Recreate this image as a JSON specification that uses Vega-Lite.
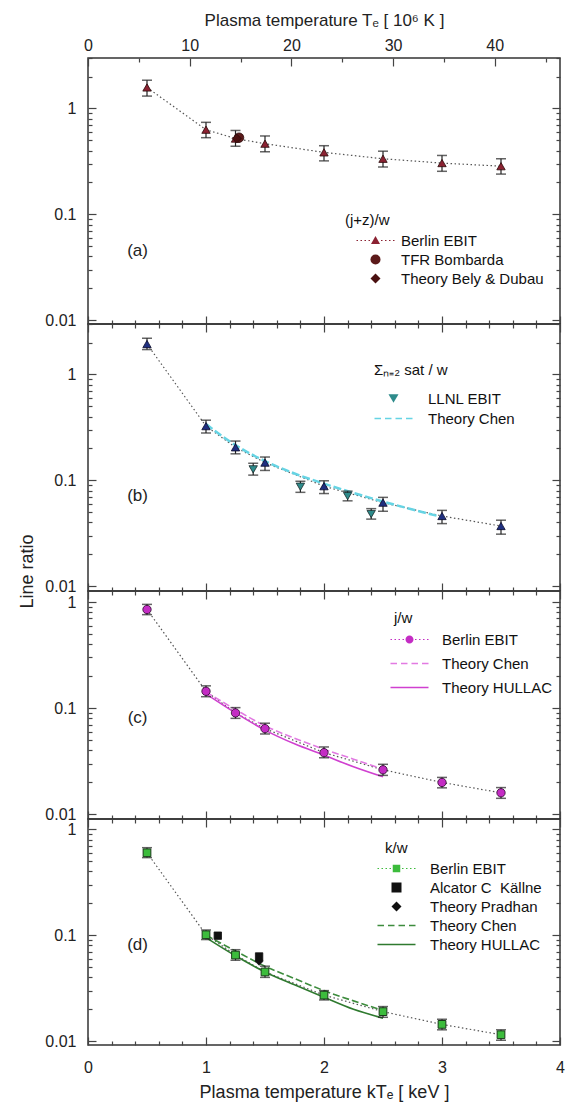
{
  "$schema": "https://vega.github.io/schema/vega-lite/v6.json",
  "padding": {"left": 18, "top": 10, "right": 5, "bottom": 2},
  "spacing": 0,
  "bounds": "flush",
  "config": {
    "font": "Liberation Sans",
    "view": {"stroke": "#333", "strokeWidth": 1.5},
    "axis": {"domain": false, "grid": false, "labelFont": "Liberation Sans", "labelFontSize": 16, "labelColor": "#222", "titleFont": "Liberation Sans", "titleFontSize": 18, "titleFontWeight": "normal", "titleColor": "#222", "tickColor": "#444", "tickWidth": 1.2, "labelOverlap": false, "labelBound": false, "labelFlush": false},
    "legend": {"labelFont": "Liberation Sans", "titleFont": "Liberation Sans", "labelFontSize": 15, "titleFontSize": 15, "titleFontWeight": "normal", "labelColor": "#111", "titleColor": "#111", "symbolStrokeWidth": 0, "symbolSize": 100, "symbolOpacity": 1, "labelLimit": 300, "padding": 0, "orient": "none"}
  },
  "datasets": {
    "a": [
      {"series": "Berlin EBIT", "kT": 0.5, "ratio": 1.58, "lo": 1.31, "hi": 1.85},
      {"series": "Berlin EBIT", "kT": 1.0, "ratio": 0.63, "lo": 0.53, "hi": 0.74},
      {"series": "Berlin EBIT", "kT": 1.25, "ratio": 0.52, "lo": 0.44, "hi": 0.62},
      {"series": "Berlin EBIT", "kT": 1.5, "ratio": 0.465, "lo": 0.39, "hi": 0.55},
      {"series": "Berlin EBIT", "kT": 2.0, "ratio": 0.385, "lo": 0.32, "hi": 0.445},
      {"series": "Berlin EBIT", "kT": 2.5, "ratio": 0.335, "lo": 0.28, "hi": 0.395},
      {"series": "Berlin EBIT", "kT": 3.0, "ratio": 0.305, "lo": 0.255, "hi": 0.36},
      {"series": "Berlin EBIT", "kT": 3.5, "ratio": 0.285, "lo": 0.24, "hi": 0.335},
      {"series": "TFR Bombarda", "kT": 1.28, "ratio": 0.53},
      {"series": "Theory Bely & Dubau", "kT": 1.26, "ratio": 0.52}
    ],
    "b": [
      {"series": "Berlin EBIT", "kT": 0.5, "ratio": 1.94, "lo": 1.72, "hi": 2.2},
      {"series": "Berlin EBIT", "kT": 1.0, "ratio": 0.325, "lo": 0.28, "hi": 0.37},
      {"series": "Berlin EBIT", "kT": 1.25, "ratio": 0.205, "lo": 0.178, "hi": 0.235},
      {"series": "Berlin EBIT", "kT": 1.5, "ratio": 0.147, "lo": 0.124, "hi": 0.166},
      {"series": "Berlin EBIT", "kT": 2.0, "ratio": 0.088, "lo": 0.075, "hi": 0.099},
      {"series": "Berlin EBIT", "kT": 2.5, "ratio": 0.0615, "lo": 0.051, "hi": 0.069},
      {"series": "Berlin EBIT", "kT": 3.0, "ratio": 0.046, "lo": 0.039, "hi": 0.052},
      {"series": "Berlin EBIT", "kT": 3.5, "ratio": 0.037, "lo": 0.031, "hi": 0.042},
      {"series": "LLNL EBIT", "kT": 1.4, "ratio": 0.127, "lo": 0.112, "hi": 0.145},
      {"series": "LLNL EBIT", "kT": 1.8, "ratio": 0.087, "lo": 0.077, "hi": 0.098},
      {"series": "LLNL EBIT", "kT": 2.2, "ratio": 0.071, "lo": 0.064, "hi": 0.079},
      {"series": "LLNL EBIT", "kT": 2.4, "ratio": 0.048, "lo": 0.043, "hi": 0.054},
      {"series": "Theory Chen", "kT": 1.0, "ratio": 0.34},
      {"series": "Theory Chen", "kT": 1.25, "ratio": 0.215},
      {"series": "Theory Chen", "kT": 1.5, "ratio": 0.152},
      {"series": "Theory Chen", "kT": 1.75, "ratio": 0.116},
      {"series": "Theory Chen", "kT": 2.0, "ratio": 0.093},
      {"series": "Theory Chen", "kT": 2.25, "ratio": 0.076},
      {"series": "Theory Chen", "kT": 2.5, "ratio": 0.063},
      {"series": "Theory Chen", "kT": 2.75, "ratio": 0.053},
      {"series": "Theory Chen", "kT": 3.0, "ratio": 0.045}
    ],
    "c": [
      {"series": "Berlin EBIT", "kT": 0.5, "ratio": 0.85, "lo": 0.76, "hi": 0.95},
      {"series": "Berlin EBIT", "kT": 1.0, "ratio": 0.144, "lo": 0.128, "hi": 0.162},
      {"series": "Berlin EBIT", "kT": 1.25, "ratio": 0.09, "lo": 0.08, "hi": 0.101},
      {"series": "Berlin EBIT", "kT": 1.5, "ratio": 0.064, "lo": 0.057, "hi": 0.072},
      {"series": "Berlin EBIT", "kT": 2.0, "ratio": 0.038, "lo": 0.034, "hi": 0.043},
      {"series": "Berlin EBIT", "kT": 2.5, "ratio": 0.0262, "lo": 0.0232, "hi": 0.0295},
      {"series": "Berlin EBIT", "kT": 3.0, "ratio": 0.0199, "lo": 0.0177, "hi": 0.0222},
      {"series": "Berlin EBIT", "kT": 3.5, "ratio": 0.0159, "lo": 0.0141, "hi": 0.0178},
      {"series": "Theory Chen", "kT": 1.0, "ratio": 0.142},
      {"series": "Theory Chen", "kT": 1.25, "ratio": 0.097},
      {"series": "Theory Chen", "kT": 1.5, "ratio": 0.068},
      {"series": "Theory Chen", "kT": 1.75, "ratio": 0.052},
      {"series": "Theory Chen", "kT": 2.0, "ratio": 0.041},
      {"series": "Theory Chen", "kT": 2.25, "ratio": 0.033},
      {"series": "Theory Chen", "kT": 2.5, "ratio": 0.0265},
      {"series": "Theory HULLAC", "kT": 1.0, "ratio": 0.136},
      {"series": "Theory HULLAC", "kT": 1.25, "ratio": 0.09},
      {"series": "Theory HULLAC", "kT": 1.5, "ratio": 0.062},
      {"series": "Theory HULLAC", "kT": 1.75, "ratio": 0.046},
      {"series": "Theory HULLAC", "kT": 2.0, "ratio": 0.036},
      {"series": "Theory HULLAC", "kT": 2.25, "ratio": 0.028},
      {"series": "Theory HULLAC", "kT": 2.5, "ratio": 0.0225}
    ],
    "d": [
      {"series": "Berlin EBIT", "kT": 0.5, "ratio": 0.6, "lo": 0.54, "hi": 0.67},
      {"series": "Berlin EBIT", "kT": 1.0, "ratio": 0.101, "lo": 0.091, "hi": 0.112},
      {"series": "Berlin EBIT", "kT": 1.25, "ratio": 0.065, "lo": 0.058, "hi": 0.073},
      {"series": "Berlin EBIT", "kT": 1.5, "ratio": 0.045, "lo": 0.04, "hi": 0.051},
      {"series": "Berlin EBIT", "kT": 2.0, "ratio": 0.0272, "lo": 0.0245, "hi": 0.03},
      {"series": "Berlin EBIT", "kT": 2.5, "ratio": 0.019, "lo": 0.0168, "hi": 0.0212},
      {"series": "Berlin EBIT", "kT": 3.0, "ratio": 0.0144, "lo": 0.0128, "hi": 0.0161},
      {"series": "Berlin EBIT", "kT": 3.5, "ratio": 0.0115, "lo": 0.0102, "hi": 0.0128},
      {"series": "Alcator C\u00a0 Källne", "kT": 1.1, "ratio": 0.099},
      {"series": "Alcator C\u00a0 Källne", "kT": 1.45, "ratio": 0.063},
      {"series": "Theory Pradhan", "kT": 1.45, "ratio": 0.057},
      {"series": "Theory Chen", "kT": 1.0, "ratio": 0.1},
      {"series": "Theory Chen", "kT": 1.25, "ratio": 0.071},
      {"series": "Theory Chen", "kT": 1.5, "ratio": 0.051},
      {"series": "Theory Chen", "kT": 1.75, "ratio": 0.039},
      {"series": "Theory Chen", "kT": 2.0, "ratio": 0.03},
      {"series": "Theory Chen", "kT": 2.25, "ratio": 0.024},
      {"series": "Theory Chen", "kT": 2.5, "ratio": 0.0195},
      {"series": "Theory HULLAC", "kT": 1.0, "ratio": 0.095},
      {"series": "Theory HULLAC", "kT": 1.25, "ratio": 0.064},
      {"series": "Theory HULLAC", "kT": 1.5, "ratio": 0.045},
      {"series": "Theory HULLAC", "kT": 1.75, "ratio": 0.034},
      {"series": "Theory HULLAC", "kT": 2.0, "ratio": 0.026},
      {"series": "Theory HULLAC", "kT": 2.25, "ratio": 0.02},
      {"series": "Theory HULLAC", "kT": 2.5, "ratio": 0.0165}
    ]
  },
  "resolve": {"scale": {"x": "independent", "y": "independent", "fill": "independent", "shape": "independent"}, "legend": {"fill": "independent", "shape": "independent"}},
  "vconcat": [
    {
      "name": "pa", "width": 472, "height": 266,
      "data": {"name": "a"},
      "resolve": {"axis": {"x": "independent", "y": "independent"}},
      "layer": [
        {"transform": [{"filter": "datum.series === 'Berlin EBIT'"}],
         "mark": {"type": "line", "strokeDash": [1.5, 2.5], "color": "#555", "strokeWidth": 1.2},
         "encoding": {
           "x": {"field": "kT", "type": "quantitative", "scale": {"domain": [0, 4], "nice": false, "zero": false},
                 "axis": {"orient": "bottom", "title": null, "labels": false, "values": [0,0.2,0.4,0.6,0.8,1,1.2,1.4,1.6,1.8,2,2.2,2.4,2.6,2.8,3,3.2,3.4,3.6,3.8,4],
                          "tickSize": {"condition": {"test": "abs(datum.value - round(datum.value)) < 0.001", "value": -8}, "value": -4}}},
           "y": {"field": "ratio", "type": "quantitative", "scale": {"type": "log", "domain": [0.0092, 3], "nice": false},
                 "axis": {"orient": "left", "title": null, "values": [0.01,0.02,0.03,0.04,0.05,0.06,0.07,0.08,0.09,0.1,0.2,0.3,0.4,0.5,0.6,0.7,0.8,0.9,1,2,3],
                          "labelExpr": "abs(log(datum.value)/LN10 - round(log(datum.value)/LN10)) < 0.001 ? format(datum.value, '~g') : ''",
                          "labelPadding": 20,
                          "tickSize": {"condition": {"test": "abs(log(datum.value)/LN10 - round(log(datum.value)/LN10)) < 0.001", "value": -8}, "value": -4}}}
         }},
        {"transform": [{"filter": "isValid(datum.lo)"}],
         "mark": {"type": "rule", "color": "#222", "strokeWidth": 1.2},
         "encoding": {
           "x": {"field": "kT", "type": "quantitative",
                 "axis": {"orient": "top", "title": "Plasma temperature Tₑ [ 10⁶ K ]", "titleFontSize": 17, "titlePadding": 4,
                          "values": [0, 0.43087, 0.86174, 1.29261, 1.72347, 2.15434, 2.58521, 3.01608, 3.44695, 3.87781],
                          "labelExpr": "round(datum.value*11.6045) % 10 == 0 ? format(round(datum.value*11.6045), 'd') : ''",
                          "labelPadding": 13,
                          "tickSize": {"condition": {"test": "round(datum.value*11.6045) % 10 == 0", "value": -8}, "value": -4}}},
           "y": {"field": "lo", "type": "quantitative",
                 "axis": {"orient": "right", "title": null, "labels": false, "values": [0.01,0.02,0.03,0.04,0.05,0.06,0.07,0.08,0.09,0.1,0.2,0.3,0.4,0.5,0.6,0.7,0.8,0.9,1,2,3],
                          "tickSize": {"condition": {"test": "abs(log(datum.value)/LN10 - round(log(datum.value)/LN10)) < 0.001", "value": -8}, "value": -4}}},
           "y2": {"field": "hi"}
         }},
        {"transform": [{"filter": "isValid(datum.lo)"}],
         "mark": {"type": "tick", "orient": "horizontal", "size": 10, "thickness": 1.5, "color": "#222"},
         "encoding": {"x": {"field": "kT", "type": "quantitative", "axis": null}, "y": {"field": "lo", "type": "quantitative", "axis": null}}},
        {"transform": [{"filter": "isValid(datum.hi)"}],
         "mark": {"type": "tick", "orient": "horizontal", "size": 10, "thickness": 1.5, "color": "#222"},
         "encoding": {"x": {"field": "kT", "type": "quantitative", "axis": null}, "y": {"field": "hi", "type": "quantitative", "axis": null}}},
        {"transform": [{"filter": "datum.series === 'Berlin EBIT'"}],
         "mark": {"type": "point", "shape": "triangle-up", "filled": true, "size": 70, "fill": "#8b2232", "stroke": "#2a0a0a", "strokeWidth": 0.8, "opacity": 1},
         "encoding": {"x": {"field": "kT", "type": "quantitative", "axis": null}, "y": {"field": "ratio", "type": "quantitative", "axis": null}}},
        {"transform": [{"filter": "datum.series === 'TFR Bombarda'"}],
         "mark": {"type": "point", "shape": "circle", "filled": true, "size": 90, "fill": "#5c1a1a", "stroke": "#2a0a0a", "strokeWidth": 0.8, "opacity": 1},
         "encoding": {"x": {"field": "kT", "type": "quantitative", "axis": null}, "y": {"field": "ratio", "type": "quantitative", "axis": null}}},
        {"transform": [{"filter": "datum.series === 'Theory Bely & Dubau'"}],
         "mark": {"type": "point", "shape": "diamond", "filled": true, "size": 80, "fill": "#4a1010", "stroke": "#2a0a0a", "strokeWidth": 0.8, "opacity": 1},
         "encoding": {"x": {"field": "kT", "type": "quantitative", "axis": null}, "y": {"field": "ratio", "type": "quantitative", "axis": null}}},
        {"data": {"values": [{"label": "(a)"}]},
         "mark": {"type": "text", "fontSize": 17, "font": "Liberation Sans", "color": "#222"},
         "encoding": {"x": {"datum": 0.42, "type": "quantitative", "axis": null}, "y": {"datum": 0.045, "type": "quantitative", "axis": null}, "text": {"field": "label"}}},
        {"data": {"values": []},
         "mark": {"type": "point", "filled": true},
         "encoding": {
           "fill": {"field": "series", "type": "nominal", "scale": {"domain": ["Berlin EBIT", "TFR Bombarda", "Theory Bely & Dubau"], "range": ["#8b2232", "#5c1a1a", "#4a1010"]},
                    "legend": {"title": "(j+z)/w", "legendX": 257, "legendY": 155, "symbolOffset": 23, "labelOffset": 18, "rowPadding": 3, "titlePadding": 5}},
           "shape": {"field": "series", "type": "nominal", "scale": {"domain": ["Berlin EBIT", "TFR Bombarda", "Theory Bely & Dubau"], "range": ["M-3.8,-0.12h0.3v0.24h-0.3Z M-3.0,-0.12h0.3v0.24h-0.3Z M-2.2,-0.12h0.3v0.24h-0.3Z M-1.4,-0.12h0.3v0.24h-0.3Z M1.1,-0.12h0.3v0.24h-0.3Z M1.9,-0.12h0.3v0.24h-0.3Z M2.7,-0.12h0.3v0.24h-0.3Z M3.5,-0.12h0.3v0.24h-0.3Z M0,-0.9L0.9,0.7L-0.9,0.7Z", "circle", "diamond"]},
                    "legend": {"title": "(j+z)/w", "legendX": 257, "legendY": 155, "symbolOffset": 23, "labelOffset": 18, "rowPadding": 3, "titlePadding": 5}}
         }}
      ]
    },
    {
      "name": "pb", "width": 472, "height": 267,
      "data": {"name": "b"},
      "resolve": {"axis": {"x": "independent", "y": "independent"}},
      "layer": [
        {"transform": [{"filter": "datum.series === 'Berlin EBIT'"}],
         "mark": {"type": "line", "strokeDash": [1.5, 2.5], "color": "#555", "strokeWidth": 1.2},
         "encoding": {
           "x": {"field": "kT", "type": "quantitative", "scale": {"domain": [0, 4], "nice": false, "zero": false},
                 "axis": {"orient": "bottom", "title": null, "labels": false, "values": [0,0.2,0.4,0.6,0.8,1,1.2,1.4,1.6,1.8,2,2.2,2.4,2.6,2.8,3,3.2,3.4,3.6,3.8,4],
                          "tickSize": {"condition": {"test": "abs(datum.value - round(datum.value)) < 0.001", "value": -8}, "value": -4}}},
           "y": {"field": "ratio", "type": "quantitative", "scale": {"type": "log", "domain": [0.009, 3], "nice": false},
                 "axis": {"orient": "left", "title": "Line ratio", "titleY": 247, "titlePadding": 8, "values": [0.01,0.02,0.03,0.04,0.05,0.06,0.07,0.08,0.09,0.1,0.2,0.3,0.4,0.5,0.6,0.7,0.8,0.9,1,2,3],
                          "labelExpr": "abs(log(datum.value)/LN10 - round(log(datum.value)/LN10)) < 0.001 ? format(datum.value, '~g') : ''",
                          "labelPadding": 20,
                          "tickSize": {"condition": {"test": "abs(log(datum.value)/LN10 - round(log(datum.value)/LN10)) < 0.001", "value": -8}, "value": -4}}}
         }},
        {"transform": [{"filter": "datum.series === 'Theory Chen'"}],
         "mark": {"type": "line", "strokeDash": [8, 3], "color": "#66d4e4", "strokeWidth": 2.5, "interpolate": "monotone"},
         "encoding": {
           "x": {"field": "kT", "type": "quantitative",
                 "axis": {"orient": "top", "title": null, "labels": false, "values": [0,0.2,0.4,0.6,0.8,1,1.2,1.4,1.6,1.8,2,2.2,2.4,2.6,2.8,3,3.2,3.4,3.6,3.8,4],
                          "tickSize": {"condition": {"test": "abs(datum.value - round(datum.value)) < 0.001", "value": -8}, "value": -4}}},
           "y": {"field": "ratio", "type": "quantitative",
                 "axis": {"orient": "right", "title": null, "labels": false, "values": [0.01,0.02,0.03,0.04,0.05,0.06,0.07,0.08,0.09,0.1,0.2,0.3,0.4,0.5,0.6,0.7,0.8,0.9,1,2,3],
                          "tickSize": {"condition": {"test": "abs(log(datum.value)/LN10 - round(log(datum.value)/LN10)) < 0.001", "value": -8}, "value": -4}}}
         }},
        {"transform": [{"filter": "isValid(datum.lo)"}],
         "mark": {"type": "rule", "color": "#222", "strokeWidth": 1.2},
         "encoding": {"x": {"field": "kT", "type": "quantitative", "axis": null}, "y": {"field": "lo", "type": "quantitative", "axis": null}, "y2": {"field": "hi"}}},
        {"transform": [{"filter": "isValid(datum.lo)"}],
         "mark": {"type": "tick", "orient": "horizontal", "size": 10, "thickness": 1.5, "color": "#222"},
         "encoding": {"x": {"field": "kT", "type": "quantitative", "axis": null}, "y": {"field": "lo", "type": "quantitative", "axis": null}}},
        {"transform": [{"filter": "isValid(datum.hi)"}],
         "mark": {"type": "tick", "orient": "horizontal", "size": 10, "thickness": 1.5, "color": "#222"},
         "encoding": {"x": {"field": "kT", "type": "quantitative", "axis": null}, "y": {"field": "hi", "type": "quantitative", "axis": null}}},
        {"transform": [{"filter": "datum.series === 'LLNL EBIT'"}],
         "mark": {"type": "point", "shape": "triangle-down", "filled": true, "size": 70, "fill": "#2e8b8b", "stroke": "#1a2a2a", "strokeWidth": 0.8, "opacity": 1},
         "encoding": {"x": {"field": "kT", "type": "quantitative", "axis": null}, "y": {"field": "ratio", "type": "quantitative", "axis": null}}},
        {"transform": [{"filter": "datum.series === 'Berlin EBIT'"}],
         "mark": {"type": "point", "shape": "triangle-up", "filled": true, "size": 70, "fill": "#1f2f80", "stroke": "#0a0a2a", "strokeWidth": 0.8, "opacity": 1},
         "encoding": {"x": {"field": "kT", "type": "quantitative", "axis": null}, "y": {"field": "ratio", "type": "quantitative", "axis": null}}},
        {"data": {"values": [{"label": "(b)"}]},
         "mark": {"type": "text", "fontSize": 17, "font": "Liberation Sans", "color": "#222"},
         "encoding": {"x": {"datum": 0.42, "type": "quantitative", "axis": null}, "y": {"datum": 0.071, "type": "quantitative", "axis": null}, "text": {"field": "label"}}},
        {"data": {"values": []},
         "mark": {"type": "point", "filled": true},
         "encoding": {
           "fill": {"field": "series", "type": "nominal", "scale": {"domain": ["LLNL EBIT", "Theory Chen"], "range": ["#2e8b8b", "#66d4e4"]},
                    "legend": {"title": "Σₙ₌₂ sat / w", "legendX": 286, "legendY": 39, "symbolOffset": 12, "labelOffset": 27, "rowPadding": 4, "titlePadding": 13}},
           "shape": {"field": "series", "type": "nominal", "scale": {"domain": ["LLNL EBIT", "Theory Chen"], "range": ["triangle-down", "M-3.8,-0.15H-2.5V0.15H-3.8Z M-1.7,-0.15H-0.4V0.15H-1.7Z M0.4,-0.15H1.7V0.15H0.4Z M2.5,-0.15H3.8V0.15H2.5Z"]},
                    "legend": {"title": "Σₙ₌₂ sat / w", "legendX": 286, "legendY": 39, "symbolOffset": 12, "labelOffset": 27, "rowPadding": 4, "titlePadding": 13}}
         }}
      ]
    },
    {
      "name": "pc", "width": 472, "height": 228,
      "data": {"name": "c"},
      "resolve": {"axis": {"x": "independent", "y": "independent"}},
      "layer": [
        {"transform": [{"filter": "datum.series === 'Berlin EBIT'"}],
         "mark": {"type": "line", "strokeDash": [1.5, 2.5], "color": "#555", "strokeWidth": 1.2},
         "encoding": {
           "x": {"field": "kT", "type": "quantitative", "scale": {"domain": [0, 4], "nice": false, "zero": false},
                 "axis": {"orient": "bottom", "title": null, "labels": false, "values": [0,0.2,0.4,0.6,0.8,1,1.2,1.4,1.6,1.8,2,2.2,2.4,2.6,2.8,3,3.2,3.4,3.6,3.8,4],
                          "tickSize": {"condition": {"test": "abs(datum.value - round(datum.value)) < 0.001", "value": -8}, "value": -4}}},
           "y": {"field": "ratio", "type": "quantitative", "scale": {"type": "log", "domain": [0.009, 1.27], "nice": false},
                 "axis": {"orient": "left", "title": null, "values": [0.01,0.02,0.03,0.04,0.05,0.06,0.07,0.08,0.09,0.1,0.2,0.3,0.4,0.5,0.6,0.7,0.8,0.9,1],
                          "labelExpr": "abs(log(datum.value)/LN10 - round(log(datum.value)/LN10)) < 0.001 ? format(datum.value, '~g') : ''",
                          "labelPadding": 20,
                          "tickSize": {"condition": {"test": "abs(log(datum.value)/LN10 - round(log(datum.value)/LN10)) < 0.001", "value": -8}, "value": -4}}}
         }},
        {"transform": [{"filter": "datum.series === 'Theory Chen'"}],
         "mark": {"type": "line", "strokeDash": [7, 3], "color": "#e27ae2", "strokeWidth": 1.6, "interpolate": "monotone"},
         "encoding": {
           "x": {"field": "kT", "type": "quantitative",
                 "axis": {"orient": "top", "title": null, "labels": false, "values": [0,0.2,0.4,0.6,0.8,1,1.2,1.4,1.6,1.8,2,2.2,2.4,2.6,2.8,3,3.2,3.4,3.6,3.8,4],
                          "tickSize": {"condition": {"test": "abs(datum.value - round(datum.value)) < 0.001", "value": -8}, "value": -4}}},
           "y": {"field": "ratio", "type": "quantitative",
                 "axis": {"orient": "right", "title": null, "labels": false, "values": [0.01,0.02,0.03,0.04,0.05,0.06,0.07,0.08,0.09,0.1,0.2,0.3,0.4,0.5,0.6,0.7,0.8,0.9,1],
                          "tickSize": {"condition": {"test": "abs(log(datum.value)/LN10 - round(log(datum.value)/LN10)) < 0.001", "value": -8}, "value": -4}}}
         }},
        {"transform": [{"filter": "datum.series === 'Theory HULLAC'"}],
         "mark": {"type": "line", "color": "#d040d0", "strokeWidth": 1.6, "interpolate": "monotone"},
         "encoding": {"x": {"field": "kT", "type": "quantitative", "axis": null}, "y": {"field": "ratio", "type": "quantitative", "axis": null}}},
        {"transform": [{"filter": "isValid(datum.lo)"}],
         "mark": {"type": "rule", "color": "#222", "strokeWidth": 1.2},
         "encoding": {"x": {"field": "kT", "type": "quantitative", "axis": null}, "y": {"field": "lo", "type": "quantitative", "axis": null}, "y2": {"field": "hi"}}},
        {"transform": [{"filter": "isValid(datum.lo)"}],
         "mark": {"type": "tick", "orient": "horizontal", "size": 10, "thickness": 1.5, "color": "#222"},
         "encoding": {"x": {"field": "kT", "type": "quantitative", "axis": null}, "y": {"field": "lo", "type": "quantitative", "axis": null}}},
        {"transform": [{"filter": "isValid(datum.hi)"}],
         "mark": {"type": "tick", "orient": "horizontal", "size": 10, "thickness": 1.5, "color": "#222"},
         "encoding": {"x": {"field": "kT", "type": "quantitative", "axis": null}, "y": {"field": "hi", "type": "quantitative", "axis": null}}},
        {"transform": [{"filter": "datum.series === 'Berlin EBIT'"}],
         "mark": {"type": "point", "shape": "circle", "filled": true, "size": 70, "fill": "#c42cc4", "stroke": "#2a0a2a", "strokeWidth": 0.8, "opacity": 1},
         "encoding": {"x": {"field": "kT", "type": "quantitative", "axis": null}, "y": {"field": "ratio", "type": "quantitative", "axis": null}}},
        {"data": {"values": [{"label": "(c)"}]},
         "mark": {"type": "text", "fontSize": 17, "font": "Liberation Sans", "color": "#222"},
         "encoding": {"x": {"datum": 0.42, "type": "quantitative", "axis": null}, "y": {"datum": 0.08, "type": "quantitative", "axis": null}, "text": {"field": "label"}}},
        {"data": {"values": []},
         "mark": {"type": "point", "filled": true},
         "encoding": {
           "fill": {"field": "series", "type": "nominal", "scale": {"domain": ["Berlin EBIT", "Theory Chen", "Theory HULLAC"], "range": ["#c42cc4", "#e27ae2", "#d040d0"]},
                    "legend": {"title": "j/w", "legendX": 306, "legendY": 20, "symbolOffset": 8, "labelOffset": 25, "rowPadding": 8, "titlePadding": 6}},
           "shape": {"field": "series", "type": "nominal", "scale": {"domain": ["Berlin EBIT", "Theory Chen", "Theory HULLAC"], "range": ["M-3.8,-0.12h0.3v0.24h-0.3Z M-3.0,-0.12h0.3v0.24h-0.3Z M-2.2,-0.12h0.3v0.24h-0.3Z M-1.4,-0.12h0.3v0.24h-0.3Z M1.1,-0.12h0.3v0.24h-0.3Z M1.9,-0.12h0.3v0.24h-0.3Z M2.7,-0.12h0.3v0.24h-0.3Z M3.5,-0.12h0.3v0.24h-0.3Z M-0.8,0A0.8,0.8 0 1,0 0.8,0A0.8,0.8 0 1,0 -0.8,0Z", "M-3.8,-0.15H-2.5V0.15H-3.8Z M-1.7,-0.15H-0.4V0.15H-1.7Z M0.4,-0.15H1.7V0.15H0.4Z M2.5,-0.15H3.8V0.15H2.5Z", "M-3.8,-0.15H3.8V0.15H-3.8Z"]},
                    "legend": {"title": "j/w", "legendX": 306, "legendY": 20, "symbolOffset": 8, "labelOffset": 25, "rowPadding": 8, "titlePadding": 6}}
         }}
      ]
    },
    {
      "name": "pd", "width": 472, "height": 226,
      "data": {"name": "d"},
      "resolve": {"axis": {"x": "independent", "y": "independent"}},
      "layer": [
        {"transform": [{"filter": "datum.series === 'Berlin EBIT'"}],
         "mark": {"type": "line", "strokeDash": [1.5, 2.5], "color": "#555", "strokeWidth": 1.2},
         "encoding": {
           "x": {"field": "kT", "type": "quantitative", "scale": {"domain": [0, 4], "nice": false, "zero": false},
                 "axis": {"orient": "bottom", "title": "Plasma temperature kTₑ [ keV ]", "titlePadding": 4, "values": [0,0.2,0.4,0.6,0.8,1,1.2,1.4,1.6,1.8,2,2.2,2.4,2.6,2.8,3,3.2,3.4,3.6,3.8,4],
                          "labelExpr": "abs(datum.value - round(datum.value)) < 0.001 ? format(datum.value, 'd') : ''",
                          "labelPadding": 22,
                          "tickSize": {"condition": {"test": "abs(datum.value - round(datum.value)) < 0.001", "value": -8}, "value": -4}}},
           "y": {"field": "ratio", "type": "quantitative", "scale": {"type": "log", "domain": [0.0092, 1.25], "nice": false},
                 "axis": {"orient": "left", "title": null, "values": [0.01,0.02,0.03,0.04,0.05,0.06,0.07,0.08,0.09,0.1,0.2,0.3,0.4,0.5,0.6,0.7,0.8,0.9,1],
                          "labelExpr": "abs(log(datum.value)/LN10 - round(log(datum.value)/LN10)) < 0.001 ? format(datum.value, '~g') : ''",
                          "labelPadding": 20,
                          "tickSize": {"condition": {"test": "abs(log(datum.value)/LN10 - round(log(datum.value)/LN10)) < 0.001", "value": -8}, "value": -4}}}
         }},
        {"transform": [{"filter": "datum.series === 'Theory Chen'"}],
         "mark": {"type": "line", "strokeDash": [7, 3], "color": "#3d8c3d", "strokeWidth": 1.6, "interpolate": "monotone"},
         "encoding": {
           "x": {"field": "kT", "type": "quantitative",
                 "axis": {"orient": "top", "title": null, "labels": false, "values": [0,0.2,0.4,0.6,0.8,1,1.2,1.4,1.6,1.8,2,2.2,2.4,2.6,2.8,3,3.2,3.4,3.6,3.8,4],
                          "tickSize": {"condition": {"test": "abs(datum.value - round(datum.value)) < 0.001", "value": -8}, "value": -4}}},
           "y": {"field": "ratio", "type": "quantitative",
                 "axis": {"orient": "right", "title": null, "labels": false, "values": [0.01,0.02,0.03,0.04,0.05,0.06,0.07,0.08,0.09,0.1,0.2,0.3,0.4,0.5,0.6,0.7,0.8,0.9,1],
                          "tickSize": {"condition": {"test": "abs(log(datum.value)/LN10 - round(log(datum.value)/LN10)) < 0.001", "value": -8}, "value": -4}}}
         }},
        {"transform": [{"filter": "datum.series === 'Theory HULLAC'"}],
         "mark": {"type": "line", "color": "#2f7a2f", "strokeWidth": 1.6, "interpolate": "monotone"},
         "encoding": {"x": {"field": "kT", "type": "quantitative", "axis": null}, "y": {"field": "ratio", "type": "quantitative", "axis": null}}},
        {"transform": [{"filter": "isValid(datum.lo)"}],
         "mark": {"type": "rule", "color": "#222", "strokeWidth": 1.2},
         "encoding": {"x": {"field": "kT", "type": "quantitative", "axis": null}, "y": {"field": "lo", "type": "quantitative", "axis": null}, "y2": {"field": "hi"}}},
        {"transform": [{"filter": "isValid(datum.lo)"}],
         "mark": {"type": "tick", "orient": "horizontal", "size": 10, "thickness": 1.5, "color": "#222"},
         "encoding": {"x": {"field": "kT", "type": "quantitative", "axis": null}, "y": {"field": "lo", "type": "quantitative", "axis": null}}},
        {"transform": [{"filter": "isValid(datum.hi)"}],
         "mark": {"type": "tick", "orient": "horizontal", "size": 10, "thickness": 1.5, "color": "#222"},
         "encoding": {"x": {"field": "kT", "type": "quantitative", "axis": null}, "y": {"field": "hi", "type": "quantitative", "axis": null}}},
        {"transform": [{"filter": "datum.series === 'Alcator C\u00a0 Källne'"}],
         "mark": {"type": "point", "shape": "square", "filled": true, "size": 55, "fill": "#111", "stroke": "#111", "strokeWidth": 0.8, "opacity": 1},
         "encoding": {"x": {"field": "kT", "type": "quantitative", "axis": null}, "y": {"field": "ratio", "type": "quantitative", "axis": null}}},
        {"transform": [{"filter": "datum.series === 'Theory Pradhan'"}],
         "mark": {"type": "point", "shape": "diamond", "filled": true, "size": 70, "fill": "#111", "stroke": "#111", "strokeWidth": 0.8, "opacity": 1},
         "encoding": {"x": {"field": "kT", "type": "quantitative", "axis": null}, "y": {"field": "ratio", "type": "quantitative", "axis": null}}},
        {"transform": [{"filter": "datum.series === 'Berlin EBIT'"}],
         "mark": {"type": "point", "shape": "square", "filled": true, "size": 60, "fill": "#3cbc3c", "stroke": "#1a3a1a", "strokeWidth": 1, "opacity": 1},
         "encoding": {"x": {"field": "kT", "type": "quantitative", "axis": null}, "y": {"field": "ratio", "type": "quantitative", "axis": null}}},
        {"data": {"values": [{"label": "(d)"}]},
         "mark": {"type": "text", "fontSize": 17, "font": "Liberation Sans", "color": "#222"},
         "encoding": {"x": {"datum": 0.42, "type": "quantitative", "axis": null}, "y": {"datum": 0.081, "type": "quantitative", "axis": null}, "text": {"field": "label"}}},
        {"data": {"values": []},
         "mark": {"type": "point", "filled": true},
         "encoding": {
           "fill": {"field": "series", "type": "nominal", "scale": {"domain": ["Berlin EBIT", "Alcator C\u00a0 Källne", "Theory Pradhan", "Theory Chen", "Theory HULLAC"], "range": ["#3cbc3c", "#111111", "#111111", "#3d8c3d", "#2f7a2f"]},
                    "legend": {"title": "k/w", "legendX": 297, "legendY": 22, "symbolOffset": 4, "labelOffset": 26, "rowPadding": 3, "titlePadding": 5}},
           "shape": {"field": "series", "type": "nominal", "scale": {"domain": ["Berlin EBIT", "Alcator C\u00a0 Källne", "Theory Pradhan", "Theory Chen", "Theory HULLAC"], "range": ["M-3.8,-0.12h0.3v0.24h-0.3Z M-3.0,-0.12h0.3v0.24h-0.3Z M-2.2,-0.12h0.3v0.24h-0.3Z M-1.4,-0.12h0.3v0.24h-0.3Z M1.1,-0.12h0.3v0.24h-0.3Z M1.9,-0.12h0.3v0.24h-0.3Z M2.7,-0.12h0.3v0.24h-0.3Z M3.5,-0.12h0.3v0.24h-0.3Z M-0.75,-0.75H0.75V0.75H-0.75Z", "square", "diamond", "M-3.8,-0.15H-2.5V0.15H-3.8Z M-1.7,-0.15H-0.4V0.15H-1.7Z M0.4,-0.15H1.7V0.15H0.4Z M2.5,-0.15H3.8V0.15H2.5Z", "M-3.8,-0.15H3.8V0.15H-3.8Z"]},
                    "legend": {"title": "k/w", "legendX": 297, "legendY": 22, "symbolOffset": 4, "labelOffset": 26, "rowPadding": 3, "titlePadding": 5}}
         }}
      ]
    }
  ]
}
